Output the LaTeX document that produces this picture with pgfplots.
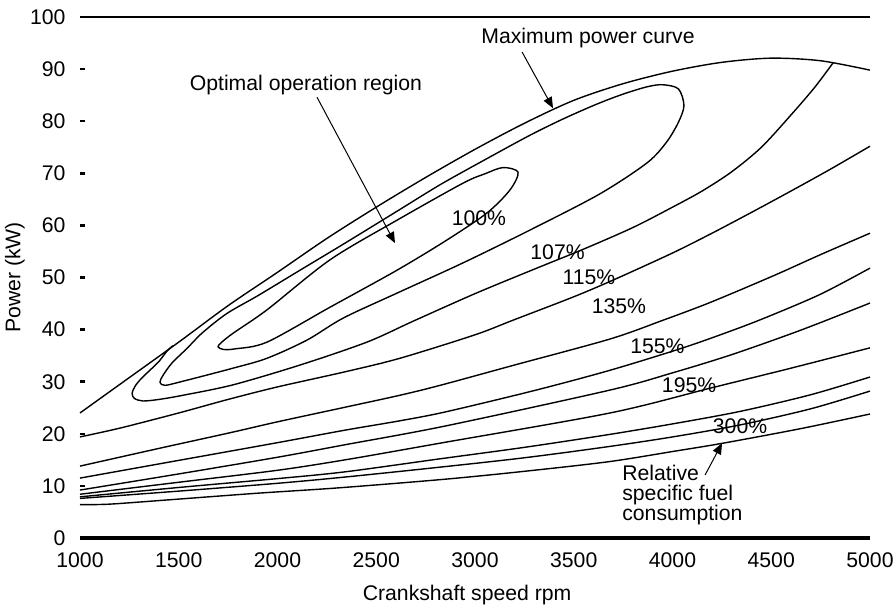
\documentclass[border=0pt]{standalone}
\usepackage{fontspec}
\setmainfont{Liberation Sans}
\usepackage{pgfplots}
\pgfplotsset{compat=1.18}
\usetikzlibrary{arrows.meta,calc}

\begin{document}
\fontsize{10.6}{12.7}\selectfont
\begin{tikzpicture}
\begin{axis}[name=ax,
  scale only axis,
  width=395pt, height=260.5pt,
  xmin=1000, xmax=5000, ymin=0, ymax=100,
  xtick={1000,1500,...,5000},
  ytick={0,10,...,100},
  scaled x ticks=false,
  /pgf/number format/1000 sep={},
  /pgf/number format/assume math mode=true,
  axis line style={draw=none},
  xtick style={draw=none},
  ytick style={line width=1.3pt, black},
  ytick pos=left,
  tick align=inside,
  major tick length=2.6pt,
  yticklabel style={xshift=-3.5pt},
  xticklabel style={yshift=-3.5pt},
  xlabel={Crankshaft speed rpm},
  ylabel={Power (kW)},
  xlabel style={at={(axis description cs:0.49,0)}, anchor=center, yshift=-28.5pt},
  ylabel style={at={(axis description cs:-0.0823,0.5)}, anchor=center},
  clip=false,
  cycle list={{black,solid,no markers}},
  every axis plot/.append style={black, line width=0.7pt, smooth},
]
% axis frame: only top and bottom lines
\draw[line width=1.7pt] (rel axis cs:0,0) -- (rel axis cs:1,0);
\draw[line width=1.2pt] (rel axis cs:0,1) -- (rel axis cs:1,1);

% maximum power curve
\addplot coordinates {(1000,24.0) (1250,30.8) (1500,37.6) (1750,44.6) (2000,51.0)
  (2250,57.5) (2500,63.5) (2750,69.2) (3000,74.6) (3250,79.6) (3500,84.0)
  (3750,87.2) (4000,89.6) (4250,91.3) (4500,92.1) (4750,91.6) (5000,89.8)};

% 100% (inner closed contour)
\addplot[smooth cycle] coordinates {(3218,70.2) (3142,71.1) (3050,69.9) (2939,68.1)
  (2605,61.0) (2266,53.4) (1947,43.8) (1775,39.3) (1715,37.5) (1699,36.7)
  (1725,36.2) (1785,36.3) (1947,37.6) (2266,44.3) (2605,51.4) (2858,57.2)
  (3061,62.4) (3177,66.8)};

% second closed contour
\addplot[smooth cycle] coordinates {(4058,83.0) (4030,86.2) (3950,87.0) (3871,86.6)
  (3750,85.2) (3618,83.3) (3450,80.5) (3278,77.3) (3050,72.6) (2823,67.8)
  (2600,62.6) (2342,56.6) (2114,51.4) (1900,46.5) (1744,43.1) (1620,39.4)
  (1542,36.4) (1466,33.6) (1420,31.2) (1405,29.9) (1430,29.3) (1522,30.1)
  (1775,32.6) (1947,34.5) (2150,38.0) (2332,42.2) (2605,47.0) (2939,52.8)
  (3278,59.1) (3630,66.0) (3871,72.0) (3970,76.0) (4030,79.8)};

% 107%
\addplot coordinates {(1470,36.9) (1441,35.9) (1400,33.9) (1354,32.2) (1310,30.6)
  (1280,29.2) (1264,27.8) (1275,26.8) (1319,26.3) (1400,26.6) (1522,27.4)
  (1775,29.4) (2114,33.2) (2453,37.6) (2686,41.6) (3000,46.9) (3300,51.6)
  (3547,55.4) (3800,59.6) (4000,63.5) (4150,66.6) (4300,70.3) (4450,75.0)
  (4600,81.2) (4720,86.5) (4813,91.2)};

% 115%
\addplot coordinates {(1000,19.4) (1203,21.1) (1500,24.0) (1750,26.6) (2000,29.0)
  (2342,31.9) (2620,34.5) (3000,39.0) (3192,41.8) (3500,46.3) (3699,49.5)
  (4000,54.7) (4200,58.5) (4400,62.5) (4600,66.6) (4800,70.8) (5000,75.2)};

% 135%
\addplot coordinates {(1000,13.8) (1400,17.2) (1759,20.2) (2000,22.3) (2342,25.1)
  (2620,27.4) (2823,29.3) (3200,33.2) (3684,38.2) (3952,41.8) (4190,45.2)
  (4509,50.3) (4750,54.4) (5000,58.5)};

% 155%
\addplot coordinates {(1000,11.5) (1500,14.9) (2000,18.3) (2342,20.7) (2620,22.5)
  (2850,24.2) (3300,28.3) (3684,32.2) (4053,36.5) (4300,39.8) (4478,42.4)
  (4750,46.8) (5000,51.8)};

% 175%
\addplot coordinates {(1000,9.2) (1500,12.3) (2000,15.5) (2342,17.9) (2850,21.5)
  (3684,28.4) (4000,31.7) (4300,35.2) (4650,39.9) (5000,45.1)};

% 195%
\addplot coordinates {(1000,8.4) (1500,10.7) (2000,13.0) (2342,15.0) (2823,18.2)
  (3684,24.0) (4195,28.8) (4600,32.6) (5000,36.5)};

% further contours
\addplot coordinates {(1000,7.9) (1500,9.7) (2000,11.4) (2342,12.7) (2823,15.2)
  (3250,17.4) (3668,19.8) (4000,21.9) (4342,24.3) (4700,27.5) (5000,30.9)};
\addplot coordinates {(1000,7.6) (1500,9.0) (2000,10.5) (2342,11.7) (2823,13.6)
  (3250,15.4) (3668,17.5) (4000,19.4) (4342,21.7) (4700,24.8) (5000,28.2)};
\addplot coordinates {(1000,6.4) (1150,6.5) (1440,7.3) (1900,8.6) (2300,9.6)
  (2823,11.2) (3200,12.6) (3668,14.6) (4000,16.6) (4256,18.2) (4650,21.0)
  (5000,23.8)};

% labels
\node at (axis cs:3572,96.0) {Maximum power curve};
\draw[line width=0.5pt, -{Triangle[length=5.5pt,width=4.5pt]}] (axis cs:3238,93.3) -- (axis cs:3395,82.5);
\node at (axis cs:2144,86.9) {Optimal operation region};
\draw[line width=0.5pt, -{Triangle[length=5.5pt,width=4.5pt]}] (axis cs:2200,84.6) -- (axis cs:2595,56.6);
\node at (axis cs:3020,61.3) {100\%};
\node at (axis cs:3418,54.8) {107\%};
\node at (axis cs:3577,50.0) {115\%};
\node at (axis cs:3729,44.4) {135\%};
\node at (axis cs:3924,36.8) {155\%};
\node at (axis cs:4084,29.3) {195\%};
\node at (axis cs:4342,21.4) {300\%};
\node[anchor=north west, inner sep=0pt, align=left, font={\fontsize{10.6}{10}\selectfont}]
  at (axis cs:3744,14.0) {Relative\\specific fuel\\consumption};
\draw[line width=0.5pt, -{Triangle[length=5.5pt,width=4.5pt]}] (axis cs:4165,12.1) -- (axis cs:4251,18.2);
\end{axis}
\pgfresetboundingbox
\path ($(ax.south west)+(-40pt,-34pt)$) rectangle ($(ax.north east)+(11.5pt,8.5pt)$);
\end{tikzpicture}
\end{document}
